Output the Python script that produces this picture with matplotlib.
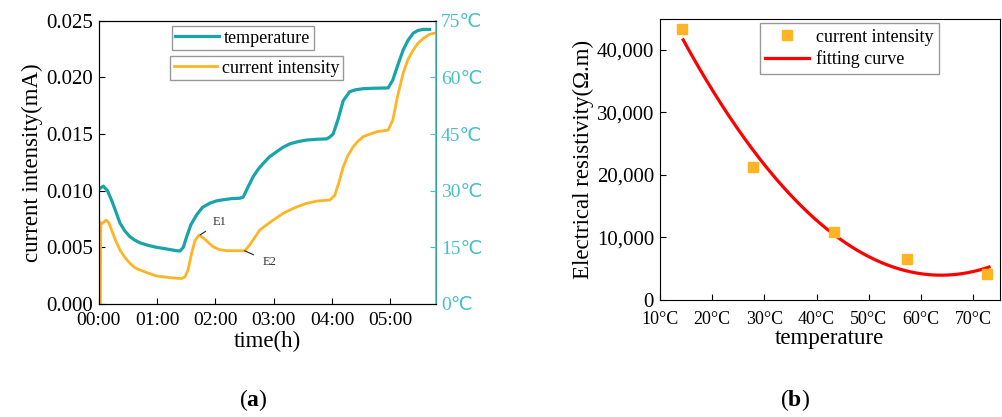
import numpy as np
import matplotlib
matplotlib.use("Agg")
import matplotlib.pyplot as plt
from matplotlib.ticker import FuncFormatter

plt.rcParams['font.family'] = ['Liberation Serif', 'DejaVu Sans']
plt.rcParams['mathtext.fontset'] = 'custom'
plt.rcParams['mathtext.rm'] = 'Liberation Serif'
plt.rcParams['mathtext.bf'] = 'Liberation Serif:bold'

## panel (a): temperature and current over time (hours)
temp_time = [0.02, 0.08, 0.15, 0.22, 0.30, 0.365, 0.45, 0.536, 0.62, 0.707, 0.85, 0.993,
             1.15, 1.30, 1.39, 1.45, 1.507, 1.58, 1.678, 1.78, 1.906, 2.02, 2.134, 2.28,
             2.42, 2.476, 2.56, 2.647, 2.73, 2.818, 2.93, 3.048, 3.16, 3.276, 3.42, 3.562,
             3.73, 3.904, 3.96, 4.017, 4.10, 4.19, 4.30, 4.40, 4.53, 4.70, 4.96, 5.04,
             5.12, 5.216, 5.30, 5.39, 5.47, 5.56, 5.67]
temp_vals = [30.6, 31.2, 30.0, 27.5, 24.2, 21.4, 19.3, 17.8, 16.9, 16.2, 15.5, 15.0,
             14.6, 14.2, 14.0, 15.0, 17.8, 21.0, 23.6, 25.6, 26.7, 27.3, 27.6, 27.9,
             28.0, 28.3, 31.0, 33.7, 35.6, 37.2, 39.0, 40.3, 41.5, 42.4, 43.0, 43.4,
             43.6, 43.7, 44.2, 45.0, 48.8, 53.8, 56.2, 56.7, 57.0, 57.1, 57.2, 59.3,
             63.0, 67.2, 69.8, 71.7, 72.4, 72.7, 72.7]

cur_time = [0.03, 0.035, 0.06, 0.127, 0.17, 0.22, 0.29, 0.365, 0.45, 0.536, 0.62, 0.707,
            0.85, 0.993, 1.15, 1.336, 1.42, 1.478, 1.53, 1.592, 1.65, 1.72, 1.80, 1.96,
            2.07, 2.19, 2.35, 2.505, 2.60, 2.76, 2.96, 3.16, 3.36, 3.56, 3.76, 3.96,
            4.046, 4.12, 4.19, 4.27, 4.36, 4.45, 4.53, 4.76, 4.96, 5.04, 5.12, 5.216,
            5.30, 5.39, 5.47, 5.56, 5.67, 5.78]
cur_vals = [0.0, 0.0072, 0.0071, 0.0074, 0.0072, 0.00653, 0.0056, 0.00476, 0.0041, 0.00359,
            0.0032, 0.0030, 0.00272, 0.00247, 0.00237, 0.00227, 0.00225, 0.0024, 0.0030,
            0.00447, 0.0056, 0.00609, 0.0058, 0.00505, 0.0048, 0.0047, 0.0047, 0.0047,
            0.0053, 0.00653, 0.0073, 0.0080, 0.0085, 0.00888, 0.0091, 0.00917, 0.0096,
            0.0108, 0.0121, 0.0131, 0.01387, 0.0144, 0.01476, 0.0152, 0.01535, 0.01623,
            0.0183, 0.02035, 0.0216, 0.0224, 0.0230, 0.02343, 0.0238, 0.02393]

time_ticks = [0, 1, 2, 3, 4, 5]
time_labels = ['00:00', '01:00', '02:00', '03:00', '04:00', '05:00']

## panel (b): resistivity vs temperature
res_temp = [14.2, 27.9, 43.4, 57.3, 72.6]
res_vals = [43400, 21230, 10930, 6500, 4160]

TEAL = '#18A4A9'
TEAL_AXIS = '#45C1C6'
ORANGE = '#FFB424'

fig = plt.figure(figsize=(10.03, 4.17), dpi=100)

ax = fig.add_axes([0.0984, 0.271, 0.3363, 0.6794])
ax2 = ax.twinx()
l2, = ax.plot(cur_time, cur_vals, color=ORANGE, lw=2.0, label='current intensity')
l1, = ax2.plot(temp_time, temp_vals, color=TEAL, lw=2.3, label='temperature')
ax.set_xlim(0, 5.78)
ax.set_ylim(0, 0.025)
ax2.set_ylim(0, 75)
ax.set_xticks(time_ticks)
ax.set_xticklabels(time_labels)
ax.set_yticks([0, 0.005, 0.010, 0.015, 0.020, 0.025])
ax.yaxis.set_major_formatter(FuncFormatter(lambda v, p: '%.3f' % v))
ax2.set_yticks([0, 15, 30, 45, 60, 75])
ax2.set_yticklabels(['%d℃' % v for v in [0, 15, 30, 45, 60, 75]])
ax.tick_params(direction='in', length=4, right=False)
ax.tick_params(axis='x', labelsize=14, pad=6)
ax.tick_params(axis='y', labelsize=15, pad=4)
ax2.tick_params(direction='in', length=4, labelsize=14, colors=TEAL_AXIS)
ax2.spines['right'].set_color(TEAL_AXIS)
ax2.spines['right'].set_linewidth(1.2)
ax.set_xlabel('time(h)', fontsize=16.5, labelpad=1)
ax.set_ylabel('current intensity(mA)', fontsize=16.5, labelpad=2)

ax.annotate('E1', xy=(1.74, 0.0061), xytext=(2.08, 0.00726), fontsize=9, color='#333333',
            ha='center', va='center',
            arrowprops=dict(arrowstyle='-', color='#222222', lw=0.8, shrinkA=4, shrinkB=0))
ax.annotate('E2', xy=(2.50, 0.0047), xytext=(2.93, 0.0037), fontsize=9, color='#333333',
            ha='center', va='center',
            arrowprops=dict(arrowstyle='-', color='#222222', lw=0.8, shrinkA=5, shrinkB=0))

leg_kw = dict(loc='upper left', fontsize=13, fancybox=False, edgecolor='#999999',
              framealpha=1, borderpad=0.2, handlelength=2.4, handletextpad=0.3,
              borderaxespad=0, bbox_transform=fig.transFigure)
lg1 = ax2.legend(handles=[l1], bbox_to_anchor=(0.1712, 0.9376), **leg_kw)
lg2 = ax2.legend(handles=[l2], bbox_to_anchor=(0.1695, 0.8657), **leg_kw)
ax2.add_artist(lg1)

fig.text(0.2525, 0.04, r'($\mathbf{a}$)', ha='center', va='center', fontsize=17)

## panel (b)
bx = fig.add_axes([0.6577, 0.2806, 0.3393, 0.6746])
coef = np.polyfit(res_temp, res_vals, 2)
fit_x = np.linspace(14.5, 73, 200)
bx.plot(res_temp, res_vals, 's', color=ORANGE, ms=6.5, label='current intensity', zorder=3)
bx.plot(fit_x, np.polyval(coef, fit_x), color='#FF0000', lw=2.3, label='fitting curve')
bx.set_xlim(10, 75.1)
bx.set_ylim(0, 45000)
bx.set_xticks([10, 20, 30, 40, 50, 60, 70])
bx.set_xticklabels(['%d°C' % v for v in [10, 20, 30, 40, 50, 60, 70]])
bx.set_yticks([0, 10000, 20000, 30000, 40000])
bx.yaxis.set_major_formatter(FuncFormatter(lambda v, p: '{:,}'.format(int(v))))
bx.tick_params(direction='in', length=4)
bx.tick_params(axis='x', labelsize=13, pad=8)
bx.tick_params(axis='y', labelsize=15, pad=4)
bx.set_xlabel('temperature', fontsize=16.5, labelpad=0)
bx.set_ylabel('Electrical resistivity(Ω.m)', fontsize=16.5, labelpad=2)
bx.legend(loc='upper left', bbox_to_anchor=(0.7577, 0.9441), bbox_transform=fig.transFigure,
          fontsize=13, fancybox=False, edgecolor='#999999', framealpha=1, borderpad=0.3,
          handlelength=2.4, handletextpad=0.4, borderaxespad=0, labelspacing=0.25)

fig.text(0.7925, 0.04, r'($\mathbf{b}$)', ha='center', va='center', fontsize=17)

fig.savefig('out.png', dpi=100)
